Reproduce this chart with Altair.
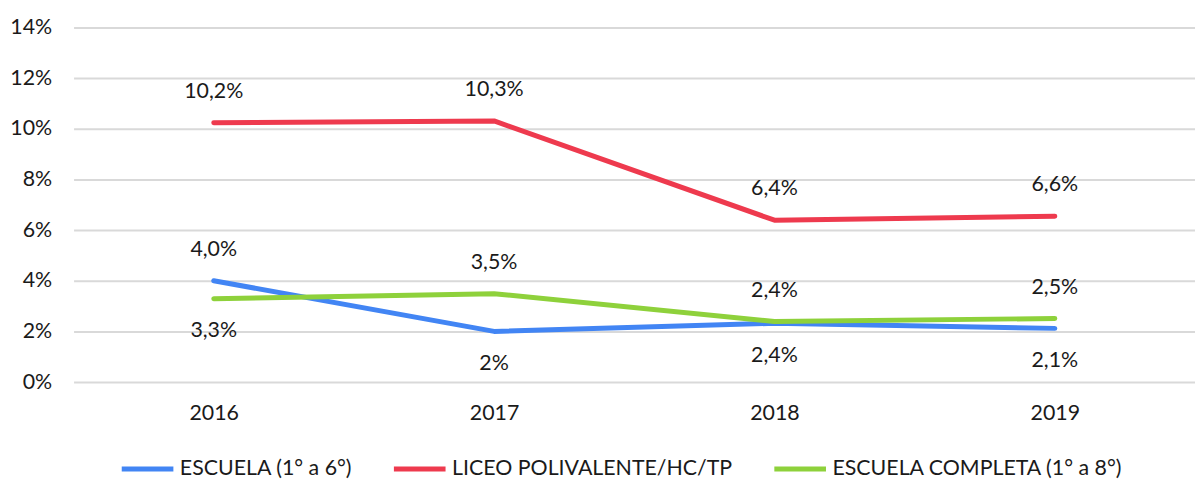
import altair as alt
import pandas as pd

years = ["2016", "2017", "2018", "2019"]
series_names = ["ESCUELA (1° a 6°)", "LICEO POLIVALENTE/HC/TP", "ESCUELA COMPLETA (1° a 8°)"]
escuela = [4.0, 2.0, 2.32, 2.12]
liceo = [10.24, 10.31, 6.39, 6.55]
completa = [3.29, 3.49, 2.39, 2.51]
escuela_labels = ["4,0%", "2%", "2,4%", "2,1%"]
liceo_labels = ["10,2%", "10,3%", "6,4%", "6,6%"]
completa_labels = ["3,3%", "3,5%", "2,4%", "2,5%"]
escuela_side = ["above", "below", "below", "below"]
liceo_side = ["above", "above", "above", "above"]
completa_side = ["below", "above", "above", "above"]
colors = ["#4285f4", "#ee3a4e", "#8ed13b"]
y_ticks = [0, 2, 4, 6, 8, 10, 12, 14]

rows = []
for name, vals, labs, sides in [
    (series_names[0], escuela, escuela_labels, escuela_side),
    (series_names[1], liceo, liceo_labels, liceo_side),
    (series_names[2], completa, completa_labels, completa_side),
]:
    for yr, v, lab, s in zip(years, vals, labs, sides):
        rows.append({"year": yr, "serie": name, "value": v, "label": lab, "side": s})
df = pd.DataFrame(rows)

FONT = "Lato"
FS = 21.5

x = alt.X("year:N", scale=alt.Scale(type="point", padding=0.5),
          axis=alt.Axis(title=None, labelAngle=0, domain=False, ticks=False,
                        labelPadding=21, labelFontSize=FS, labelColor="#1a1a1a", labelFont=FONT, grid=False))
y = alt.Y("value:Q", scale=alt.Scale(domain=[0, 14], nice=False),
          axis=alt.Axis(title=None, values=y_ticks, labelExpr="datum.value + '%'", domain=False, ticks=False,
                        labelPadding=22, labelFontSize=FS, labelColor="#1a1a1a", labelFont=FONT,
                        grid=True, gridColor="#d9d9d9", gridWidth=2))

lines = alt.Chart(df).mark_line(strokeWidth=5, strokeCap="round", strokeJoin="round").encode(
    x=x, y=y,
    color=alt.Color("serie:N", scale=alt.Scale(domain=series_names, range=colors),
                    sort=series_names,
                    legend=alt.Legend(title=None, orient="none", direction="horizontal",
                                      legendX=46, legendY=416, symbolType="stroke", symbolSize=2704,
                                      symbolStrokeWidth=5, labelFontSize=FS, labelFont=FONT,
                                      labelColor="#1a1a1a", labelOffset=4, columnPadding=31, padding=0,
                                      labelLimit=400)),
)

above = alt.Chart(df).transform_filter("datum.side == 'above'").mark_text(
    dy=-31, fontSize=FS, font=FONT, color="#1a1a1a").encode(x="year:N", y="value:Q", text="label:N")
below = alt.Chart(df).transform_filter("datum.side == 'below'").mark_text(
    dy=33, fontSize=FS, font=FONT, color="#1a1a1a").encode(x="year:N", y="value:Q", text="label:N")

chart = alt.layer(lines, above, below).properties(
    width=1129, height=357,
    padding={"left": 66, "top": 18, "right": 0, "bottom": 96},
    autosize=alt.AutoSizeParams(type="none"),
).configure_view(stroke=None)

chart.save("out.html", embed_options={"renderer": "svg", "actions": False})
